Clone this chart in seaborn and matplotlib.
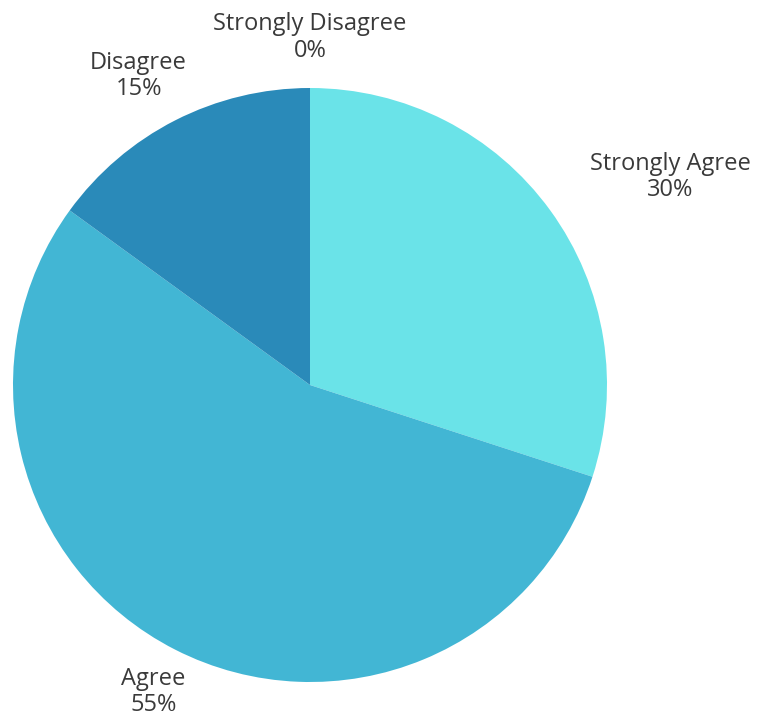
"""
Pie chart of survey responses (agreement scale).
"""

# === Imports ===

import numpy as np
from matplotlib import pyplot as plt
import seaborn as sns


# === Data ===

categories = ["Strongly Agree", "Agree", "Disagree", "Strongly Disagree"]
percents = [30, 55, 15, 0]
colors = ["#6AE3E8", "#42B6D4", "#2A8AB9", "#1F5F8B"]

# label placement: (distance from centre in radii, angle shift in degrees)
label_layout = [(1.40, -6), (1.16, 0), (1.19, 2), (1.17, 0)]


# === Plot ===

sns.set_theme(style="white")
plt.rcParams["font.family"] = ["Open Sans", "DejaVu Sans"]

fig = plt.figure(figsize=(7.65, 7.22), dpi=100)
ax = fig.add_axes([0, 0, 1, 1])

wedges, _ = ax.pie(percents, colors=colors, startangle=90, counterclock=False,
                   radius=1, center=(0, 0), wedgeprops=dict(linewidth=0))

for wedge, cat, pct, (dist, shift) in zip(wedges, categories, percents, label_layout):
    ang = np.deg2rad((wedge.theta1 + wedge.theta2) / 2 + shift)
    x, y = dist * np.cos(ang), dist * np.sin(ang)
    ax.text(x, y, f"{cat}\n{pct}%", ha="center", va="center",
            fontsize=17, color="#3a3a3a", linespacing=1.15)

# centre at pixel (310, 385), radius 297 px
ax.set_xlim(-310 / 297, 455 / 297)
ax.set_ylim(-337 / 297, 385 / 297)
ax.set_aspect("auto")
ax.axis("off")

fig.savefig("out.png", dpi=100, facecolor="white")
plt.close()
